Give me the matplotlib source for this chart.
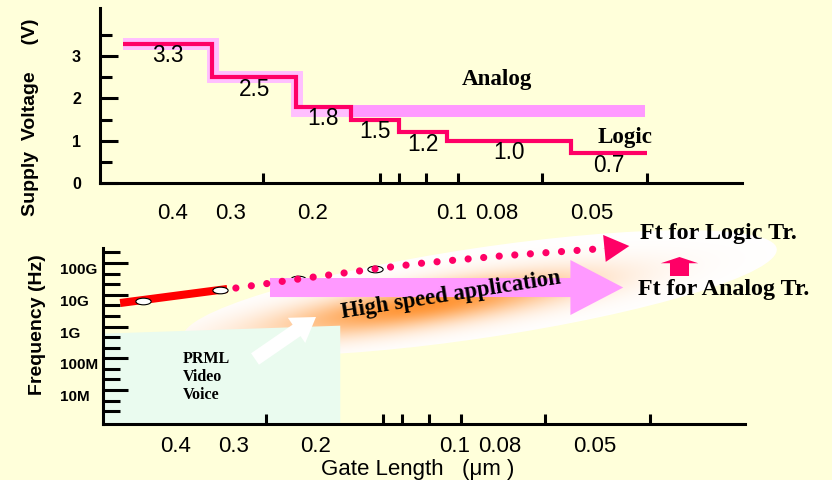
import numpy as np
import matplotlib
matplotlib.use('Agg')
import matplotlib.pyplot as plt
from matplotlib.patches import Ellipse
from matplotlib.path import Path
from matplotlib.transforms import Affine2D
from matplotlib.ticker import NullFormatter

# gate length axis (um)
gate_ticks = [0.4, 0.3, 0.2, 0.1, 0.08, 0.05]
gate_tick_labels = ['0.4', '0.3', '0.2', '0.1', '0.08', '0.05']
gate_marks = [0.40, 0.255, 0.143, 0.130, 0.114, 0.097, 0.080, 0.064, 0.038]

# supply voltage roadmap
vdd_ticks = [0, 1, 2, 3]
logic_edges = [0.51, 0.328, 0.2165, 0.165, 0.130, 0.1025, 0.0555, 0.0381]
logic_vdd = [3.3, 2.5, 1.8, 1.5, 1.2, 1.0, 0.7]
analog_edges = [0.51, 0.327, 0.216, 0.0385]
analog_vdd = [3.3, 2.5, 1.7]
analog_split = 0.165

# cut-off frequency trend
freq_ticks = [1e7, 1e8, 1e9, 1e10, 1e11]
freq_labels = ['10M', '100M', '1G', '10G', '100G']
node_gate = [0.469, 0.320, 0.218, 0.149]
node_ft = [6.3e9, 1.4e10, 3.1e10, 6.5e10]
logic_solid_gate = [0.525, 0.309]
logic_solid_ft = [5.5e9, 1.52e10]
logic_trend_gate = [0.296, 0.218, 0.149, 0.117, 0.080, 0.048]
logic_trend_ft = [1.63e10, 3.1e10, 6.5e10, 1.0e11, 1.66e11, 2.86e11]
logic_tip = (0.0422, 3.43e11)
analog_ft_gate = [0.250, 0.0435]
analog_ft = [1.69e10, 1.69e10]
app_gate = [0.57, 0.177]
app_ft_top = [6.2e8, 1.1e9]

BG = '#FFFFDA'
PINK = '#FF0066'
SANS = 'Liberation Sans'
SERIF = 'Liberation Serif'
W, H = 832, 480


def box(x0, y0, x1, y1):
    return [x0 / W, 1 - y1 / H, (x1 - x0) / W, (y1 - y0) / H]


def overlay(fig, z):
    ax = fig.add_axes([0, 0, 1, 1], zorder=z)
    ax.set_xlim(0, W)
    ax.set_ylim(H, 0)
    ax.axis('off')
    return ax


def draw_glow(ax):
    # white ellipse with an orange haze along the high speed arrow
    xs = np.arange(170, 795) + 0.5
    ys = np.arange(220, 370) + 0.5
    X, Y = np.meshgrid(xs, ys)
    a = np.deg2rad(8.5)
    u = (X - 425) * np.cos(a) - (Y - 305) * np.sin(a)
    v = (X - 425) * np.sin(a) + (Y - 305) * np.cos(a)
    w = 0.95 * np.exp(-((u / 150) ** 2 + (v / 20) ** 2))
    orange = np.array([1.0, 0.56, 0.16])
    img = (1 - w[..., None]) * np.ones(3) + w[..., None] * orange
    ell = Ellipse((480, 293), 600, 90, angle=-8.5, facecolor='none', edgecolor='none')
    ax.add_patch(ell)
    im = ax.imshow(img, extent=(170, 795, 370, 220), origin='upper', aspect='auto', zorder=1)
    im.set_clip_path(ell)
    ax.set_xlim(0, W)
    ax.set_ylim(H, 0)


def main():
    fig = plt.figure(figsize=(8.32, 4.8), dpi=100, facecolor=BG)
    back = overlay(fig, 0)
    draw_glow(back)

    # ---- supply voltage panel
    ax1 = fig.add_axes(box(100, 8, 742, 183), zorder=1)
    ax1.set_facecolor('none')
    ax1.set_xscale('log')
    ax1.set_xlim(0.5715, 0.0238)
    ax1.set_ylim(0, 4.14)
    ax1.step(analog_edges, analog_vdd + analog_vdd[-1:], where='post', color='#FFBFFF',
             lw=8.6, solid_joinstyle='miter', solid_capstyle='butt')
    ax1.plot([analog_split, analog_edges[-1]], [analog_vdd[-1]] * 2, color='#FF99FF',
             lw=8.6, solid_capstyle='butt')
    ax1.step(logic_edges, logic_vdd + logic_vdd[-1:], where='post', color=PINK,
             lw=3, solid_joinstyle='miter', solid_capstyle='butt')
    for i, v in enumerate(logic_vdd):
        xm = np.sqrt(logic_edges[i] * logic_edges[i + 1])
        ax1.annotate(f'{v:.1f}', (xm, v), xytext=(0, -8.6), textcoords='offset points',
                     ha='center', va='center', fontsize=16.3, family=SANS)

    # ---- frequency panel
    ax2 = fig.add_axes(box(103, 248, 745, 424), zorder=1)
    ax2.set_facecolor('none')
    ax2.set_xscale('log')
    ax2.set_yscale('log')
    ax2.set_xlim(0.5715, 0.0238)
    ax2.set_ylim(8.49e5, 2.97e11)
    ax2.fill_between(app_gate, ax2.get_ylim()[0], app_ft_top, color='#EAFBEF', lw=0, zorder=1)
    ax2.plot(logic_solid_gate, logic_solid_ft, color='#FF0000', lw=5.8,
             solid_capstyle='butt', zorder=2)
    ellipse_marker = Path.unit_circle().transformed(Affine2D().scale(2.3, 1))
    ax2.plot(node_gate, node_ft, ls='none', marker=ellipse_marker, ms=11,
             mfc='white', mec='black', mew=0.8, zorder=2.5)
    ax2.annotate('', xy=(analog_ft_gate[1], analog_ft[1]), xytext=(analog_ft_gate[0], analog_ft[0]),
                 arrowprops=dict(arrowstyle='simple,head_length=38,head_width=39.6,tail_width=13.7',
                                 mutation_scale=1, fc='#FF99FF', ec='none', shrinkA=0, shrinkB=0),
                 annotation_clip=False, zorder=3)
    ax2.plot(logic_trend_gate, logic_trend_ft, color=PINK, lw=5.2, ls=(0, (0.001, 2.16)),
             dash_capstyle='round', zorder=4, clip_on=False)
    ax2.annotate('', xy=logic_tip, xytext=(logic_trend_gate[-1], logic_trend_ft[-1]),
                 arrowprops=dict(arrowstyle='simple,head_length=18,head_width=19.5,tail_width=0.1',
                                 mutation_scale=1, fc=PINK, ec='none', shrinkA=0, shrinkB=0),
                 annotation_clip=False, zorder=4)

    # axes styling
    for ax in (ax1, ax2):
        ax.spines[['top', 'right']].set_visible(False)
        ax.spines[['left', 'bottom']].set_linewidth(2.2)
        ax.set_xticks(gate_ticks)
        ax.set_xticklabels(gate_tick_labels, fontsize=16, family=SANS)
        ax.set_xticks(gate_marks, minor=True)
        ax.xaxis.set_minor_formatter(NullFormatter())
        ax.tick_params(axis='x', which='major', length=0)
        ax.tick_params(axis='x', which='minor', direction='in', length=7, width=2.2)
    ax1.tick_params(axis='x', which='major', pad=14.5)
    ax2.tick_params(axis='x', which='major', pad=8.6)

    ax1.set_yticks(vdd_ticks)
    ax1.set_yticklabels([str(t) for t in vdd_ticks], fontsize=11.5, fontweight='bold', family=SANS)
    ax1.set_yticks([0.5, 1.5, 2.5, 3.5], minor=True)
    ax1.tick_params(axis='y', which='major', direction='in', length=13, width=2.2, pad=13.7)
    ax1.tick_params(axis='y', which='minor', direction='in', length=8.6, width=2.2)

    ax2.set_yticks(freq_ticks)
    ax2.set_yticklabels(freq_labels, fontsize=11, fontweight='bold', family=SANS, ha='left', va='top')
    minor = [10 ** (k + f) for k in range(6, 12) for f in (1 / 3, 2 / 3)]
    ax2.set_yticks([m for m in minor if m < 2.97e11], minor=True)
    ax2.yaxis.set_minor_formatter(NullFormatter())
    ax2.tick_params(axis='y', which='major', direction='in', length=18, width=2.2, pad=31)
    ax2.tick_params(axis='y', which='minor', direction='in', length=12, width=2.2)

    fig.text(31 / W, 1 - 117 / H, 'Supply  Voltage     (V)', rotation=90, ha='center', va='center',
             fontsize=14, fontweight='bold', family=SANS)
    fig.text(38 / W, 1 - 325 / H, 'Frequency (Hz)', rotation=90, ha='center', va='center',
             fontsize=14, fontweight='bold', family=SANS)
    fig.text(418 / W, 1 - 469 / H, 'Gate Length   (\u03bcm )', ha='center', va='center',
             fontsize=16, family=SANS)

    # ---- annotations on top
    front = overlay(fig, 2)
    serif = dict(fontweight='bold', family=SERIF)
    front.text(497, 80, 'Analog', ha='center', va='center', fontsize=16.6, **serif)
    front.text(625, 138, 'Logic', ha='center', va='center', fontsize=16.6, **serif)
    front.text(640, 234, 'Ft for Logic Tr.', ha='left', va='center', fontsize=17.3, **serif)
    front.text(638, 290, 'Ft for Analog Tr.', ha='left', va='center', fontsize=17.3, **serif)
    front.text(342, 318, 'High speed application', rotation=9, rotation_mode='anchor',
               ha='left', va='baseline', fontsize=16.4, **serif)
    front.text(183, 377, 'PRML\nVideo\nVoice', ha='left', va='center', fontsize=11.5,
               linespacing=1.15, **serif)
    front.annotate('', xy=(316, 317), xytext=(255, 359),
                   arrowprops=dict(arrowstyle='simple,head_length=17,head_width=22,tail_width=10',
                                   mutation_scale=1, fc='white', ec='none', shrinkA=0, shrinkB=0))
    front.annotate('', xy=(679.5, 257), xytext=(679.5, 276),
                   arrowprops=dict(arrowstyle='simple,head_length=4.5,head_width=27,tail_width=13.7',
                                   mutation_scale=1, fc=PINK, ec='none', shrinkA=0, shrinkB=0))

    fig.savefig('out.png', dpi=100, facecolor=BG)


if __name__ == '__main__':
    main()
